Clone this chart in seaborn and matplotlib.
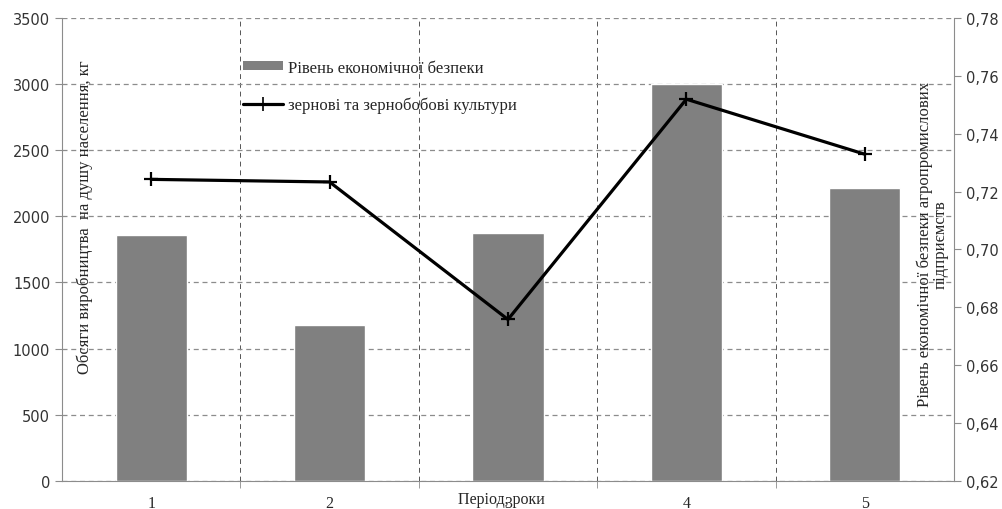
import numpy as np
import pandas as pd
import matplotlib
matplotlib.use("Agg")
import matplotlib.pyplot as plt
import seaborn as sns
from matplotlib.patches import Patch
from matplotlib.lines import Line2D
from matplotlib.ticker import FixedLocator, FuncFormatter

# ===================== DATA =====================
periods = ["1", "2", "3", "4", "5"]
production = [1860, 1180, 1875, 3000, 2215]          # bars, left axis (kg)
security = [0.7242, 0.7233, 0.6758, 0.7519, 0.7329]  # line, right axis

bar_label = "Рівень економічної безпеки"
line_label = "зернові та зернобобові культури"
left_title = "Обсяги виробництва  на душу населення, кг"
right_title = "Рівень економічної безпеки агропромислових\nпідприємств"
x_title = "Період, роки"

df = pd.DataFrame({"period": periods, "production": production, "security": security})
df["pos"] = np.arange(len(df))

# ===================== STYLE =====================
sns.set_style("white")
plt.rcParams["font.family"] = ["Liberation Serif", "DejaVu Serif"]
sans = ["DejaVu Sans"]
grid_col = "#8c8c8c"
spine_col = "#8c8c8c"

fig = plt.figure(figsize=(10.02, 5.10), dpi=100)
ax = fig.add_axes([0.0619, 0.055, 0.8901, 0.908])

# ===================== BARS =====================
sns.barplot(data=df, x="period", y="production", color="#808080",
            width=0.4, saturation=1, ax=ax, zorder=2)
ax.set_xlim(-0.5, len(df) - 0.5)
ax.set_ylim(0, 3500)
ax.set_yticks(np.arange(0, 3501, 500))
ax.set_axisbelow(True)
ax.yaxis.grid(True, color=grid_col, linestyle=(0, (4, 3)), linewidth=0.9)
ax.xaxis.set_minor_locator(FixedLocator(np.arange(0.5, len(df) - 1, 1)))
ax.xaxis.grid(True, which="minor", color="#555555", linestyle=(0, (5, 4)), linewidth=0.7)
ax.xaxis.grid(False, which="major")
ax.tick_params(axis="x", which="major", length=0, pad=10, labelsize=11.5)
ax.tick_params(axis="x", which="minor", length=5, color=spine_col, direction="out", bottom=True)
ax.tick_params(axis="y", length=5, color=spine_col, direction="out", left=True, labelsize=10.5)
for lbl in ax.get_yticklabels():
    lbl.set_family(sans)
    lbl.set_color("#333333")
ax.set_xlabel("")
ax.set_ylabel("")
for side in ["top", "right"]:
    ax.spines[side].set_visible(False)
for side in ["left", "bottom"]:
    ax.spines[side].set_color(spine_col)

# ===================== LINE =====================
ax2 = ax.twinx()
sns.lineplot(data=df, x="pos", y="security", color="black", linewidth=2.3,
             marker="+", markersize=10, markeredgewidth=1.6,
             markeredgecolor="black", ax=ax2, zorder=5)
ax2.set_ylim(0.62, 0.78)
ax2.set_yticks(np.arange(0.62, 0.781, 0.02))
ax2.yaxis.set_major_formatter(FuncFormatter(lambda v, p: f"{v:.2f}".replace(".", ",")))
ax2.tick_params(axis="y", length=5, color=spine_col, direction="out", right=True, labelsize=10.5)
for lbl in ax2.get_yticklabels():
    lbl.set_family(sans)
    lbl.set_color("#333333")
ax2.set_xlabel("")
ax2.set_ylabel("")
for side in ["top", "left", "bottom"]:
    ax2.spines[side].set_visible(False)
ax2.spines["right"].set_color(spine_col)
ax2.set_xlim(-0.5, len(df) - 0.5)

# ===================== TEXTS =====================
fig.text(0.085, 0.575, left_title, rotation=90, ha="center", va="center", fontsize=12)
fig.text(0.931, 0.52, right_title, rotation=90, ha="center", va="center",
         fontsize=12, linespacing=0.95, multialignment="center")
fig.text(0.5, 0.02, x_title, ha="center", va="center", fontsize=11.5)

handles = [Patch(facecolor="#808080", edgecolor="none"),
           Line2D([0], [0], color="black", linewidth=2.3, marker="+",
                  markersize=10, markeredgewidth=1.2)]
fig.legend(handles, [bar_label, line_label], loc="upper left",
           bbox_to_anchor=(0.228, 0.91), frameon=False, fontsize=12,
           handlelength=2.4, handleheight=0.45, handletextpad=0.3, labelspacing=1.25)

fig.savefig("out.png", dpi=100)
